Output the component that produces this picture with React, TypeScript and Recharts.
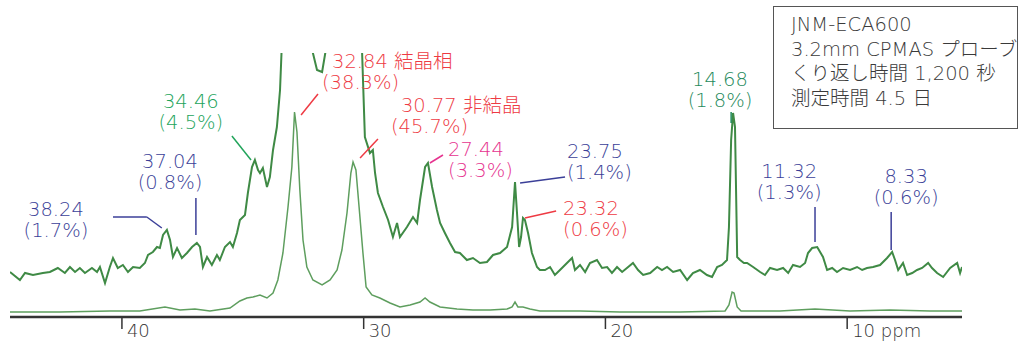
import { LineChart, Line, XAxis, YAxis, ReferenceLine, ReferenceDot } from 'recharts';

// 13C CPMAS spectrum, chemical shift (ppm) and intensity (arbitrary units)
// upper = vertically expanded trace, lower = full scale trace
const upperPpm = [
  44.63, 44.22, 44.01, 43.68, 43.27, 42.98, 42.65, 42.36, 42.15, 41.94,
  41.74, 41.53, 41.24, 41.03, 40.91, 40.70, 40.50, 40.37, 40.17, 39.96,
  39.75, 39.54, 39.26, 39.05, 38.92, 38.72, 38.55, 38.43, 38.30, 38.14,
  38.01, 37.89, 37.72, 37.52, 37.31, 37.10, 36.90, 36.77, 36.65, 36.48,
  36.28, 36.07, 35.95, 35.74, 35.53, 35.41, 35.24, 35.12, 34.91, 34.79,
  34.62, 34.50, 34.37, 34.29, 34.17, 34.00, 33.88, 33.75, 33.59, 33.46,
  33.34, 33.05, 32.64, 32.30, 32.14, 31.93, 31.72, 31.56, 31.39, 30.77,
  30.24, 30.07, 29.95, 29.74, 29.62, 29.53, 29.41, 29.20, 28.99, 28.79,
  28.62, 28.50, 28.21, 27.96, 27.79, 27.67, 27.46, 27.34, 27.17, 26.97,
  26.84, 26.64, 26.43, 26.22, 26.02, 25.73, 25.48, 25.19, 24.90, 24.65,
  24.36, 24.07, 23.86, 23.74, 23.66, 23.57, 23.49, 23.41, 23.33, 23.20,
  23.04, 22.83, 22.71, 22.50, 22.29, 22.09, 21.88, 21.59, 21.38, 21.26,
  21.05, 20.84, 20.64, 20.35, 20.14, 19.93, 19.73, 19.52, 19.31, 19.11,
  18.86, 18.65, 18.44, 18.15, 17.86, 17.66, 17.45, 17.20, 16.91, 16.62,
  16.38, 16.09, 15.80, 15.59, 15.38, 15.18, 14.97, 14.89, 14.80, 14.72,
  14.64, 14.55, 14.43, 14.27, 14.14, 13.89, 13.60, 13.40, 13.19, 12.90,
  12.65, 12.44, 12.24, 11.95, 11.74, 11.62, 11.45, 11.24, 11.12, 11.00,
  10.83, 10.62, 10.42, 10.17, 9.88, 9.59, 9.38, 9.18, 8.93, 8.64,
  8.35, 8.14, 8.02, 7.89, 7.69, 7.52, 7.31, 7.11, 6.90, 6.65,
  6.49, 6.28, 6.03, 5.74, 5.45, 5.33, 5.25,
];
const upperInt = [
  45, 37, 44, 42, 44, 45, 49, 44, 50, 45,
  49, 44, 49, 45, 50, 34, 50, 59, 49, 52,
  45, 50, 49, 54, 62, 65, 70, 69, 82, 87,
  77, 60, 69, 59, 64, 70, 74, 70, 50, 60,
  52, 62, 57, 70, 75, 70, 84, 97, 102, 124,
  150, 157, 147, 144, 149, 130, 140, 167, 190, 227,
  300, 320, 330, 300, 268, 247, 245, 268, 310, 340,
  300, 268, 180, 164, 167, 144, 124, 110, 97, 80,
  94, 80, 90, 100, 94, 117, 150, 154, 130, 107,
  94, 84, 74, 65, 64, 57, 59, 54, 55, 62,
  64, 70, 90, 135, 105, 70, 80, 99, 97, 84,
  64, 50, 47, 47, 50, 42, 47, 54, 59, 47,
  52, 45, 54, 57, 49, 50, 44, 50, 45, 49,
  54, 47, 42, 44, 50, 47, 50, 45, 47, 37,
  44, 47, 42, 40, 50, 52, 57, 90, 177, 204,
  190, 60, 57, 54, 54, 50, 45, 42, 49, 47,
  49, 44, 52, 50, 54, 64, 69, 70, 65, 60,
  47, 49, 45, 49, 47, 50, 47, 49, 50, 52,
  59, 65, 57, 47, 54, 42, 44, 47, 49, 54,
  49, 44, 40, 49, 54, 44, 50,
];

const lowerPpm = [
  44.63, 42.57, 40.50, 39.26, 38.22, 37.60, 36.98, 36.36, 35.53, 35.12,
  34.83, 34.58, 34.29, 34.00, 33.75, 33.55, 33.34, 33.13, 32.97, 32.86,
  32.76, 32.64, 32.51, 32.35, 32.10, 31.72, 31.39, 31.10, 30.90, 30.69,
  30.53, 30.44, 30.32, 30.19, 30.03, 29.90, 29.66, 29.33, 28.91, 28.50,
  28.08, 27.67, 27.46, 27.26, 26.84, 26.14, 25.48, 24.77, 24.07, 23.86,
  23.74, 23.62, 23.41, 23.12, 22.71, 21.05, 19.40, 16.91, 15.05, 14.89,
  14.76, 14.68, 14.55, 14.39, 12.78, 11.33, 9.88, 8.23, 6.57, 5.25,
];
const lowerInt = [
  5, 5, 6, 6, 10, 7, 8, 6, 9, 16,
  19, 20, 22, 19, 24, 37, 64, 110, 150, 205,
  185, 127, 77, 50, 37, 32, 37, 47, 67, 104,
  144, 155, 147, 110, 64, 30, 22, 19, 14, 10,
  12, 15, 19, 15, 10, 8, 7, 7, 8, 10,
  15, 10, 10, 8, 6, 6, 5, 5, 6, 12,
  25, 24, 10, 6, 6, 8, 6, 7, 6, 6,
];

const ppmTicks = [40, 30, 20, 10];

const BLUE = '#3b3f98';
const RED = '#ee3a43';
const PINK = '#e6338f';
const GREEN = '#22a45b';
const TEAL = '#1f8a5c';

// peak labels: text anchor (ppm, intensity) and leader segments
const notes = [
  { top: '38.24', bottom: '(1.7%)', ppm: 42.73, at: 101, anchor: 'middle', color: BLUE,
    lead: [[40.37, 100, 38.97, 100], [38.97, 100, 38.35, 89]] },
  { top: '37.04', bottom: '(0.8%)', ppm: 38.01, at: 149, anchor: 'middle', color: BLUE,
    lead: [[36.94, 119, 36.94, 82]] },
  { top: '34.46', bottom: '(4.5%)', ppm: 37.15, at: 209, anchor: 'middle', color: GREEN,
    lead: [[35.45, 181, 34.66, 157]] },
  { top: '32.84 結晶相', bottom: '(38.3%)', ppm: 31.31, at: 249, anchor: 'start', shift: -10, color: RED,
    lead: [[31.89, 223, 32.59, 202]] },
  { top: '30.77 非結晶', bottom: '(45.7%)', ppm: 28.46, at: 205, anchor: 'start', shift: -10, color: RED,
    lead: [[29.41, 178, 30.15, 159]] },
  { top: '27.44', bottom: '(3.3%)', ppm: 26.51, at: 161, anchor: 'start', color: PINK,
    lead: [[26.72, 162, 27.26, 154]] },
  { top: '23.75', bottom: '(1.4%)', ppm: 21.59, at: 159, anchor: 'start', color: BLUE,
    lead: [[21.67, 140, 23.53, 134]] },
  { top: '23.32', bottom: '(0.6%)', ppm: 21.75, at: 102, anchor: 'start', color: RED,
    lead: [[22.04, 106, 23.33, 99]] },
  { top: '14.68', bottom: '(1.8%)', ppm: 15.26, at: 231, anchor: 'middle', color: TEAL,
    lead: [[14.8, 205, 14.8, 194]] },
  { top: '11.32', bottom: '(1.3%)', ppm: 12.4, at: 139, anchor: 'middle', color: BLUE,
    lead: [[11.33, 110, 11.33, 75]] },
  { top: '8.33', bottom: '(0.6%)', ppm: 7.56, at: 134, anchor: 'middle', color: BLUE,
    lead: [[8.18, 105, 8.18, 67]] },
];

const conditions = ['JNM-ECA600', '3.2mm CPMAS プローブ', 'くり返し時間 1,200 秒', '測定時間 4.5 日'];

const FONT = '"DejaVu Sans", "Noto Sans CJK JP", sans-serif';

const upperData = upperPpm.map((ppm, i) => ({ ppm, v: upperInt[i] }));
const lowerData = lowerPpm.map((ppm, i) => ({ ppm, v: lowerInt[i] }));

const PpmTick = ({ x, y, payload }: any) => (
  <g>
    <line x1={x} x2={x} y1={y} y2={y + 12} stroke="#333" strokeWidth={1.5} />
    <text x={x + 5} y={y + 20} fontSize={18} fill="#333" fontFamily={FONT} fontWeight={300}>
      {payload.value === 10 ? '10 ppm' : payload.value}
    </text>
  </g>
);

function NoteText({ cx, cy, note }: any) {
  return (
    <g fill={note.color} fontSize={19.5} fontFamily={FONT} fontWeight={300}>
      <text x={cx} y={cy} textAnchor={note.anchor}>{note.top}</text>
      <text x={cx + (note.shift ?? 0)} y={cy + 21} textAnchor={note.anchor}>{note.bottom}</text>
    </g>
  );
}

export default function App() {
  return (
    <div style={{ position: 'absolute', left: 0, top: 0, width: 1019, height: 342, background: '#fff' }}>
      <LineChart width={1019} height={342} margin={{ top: 53, right: 57, bottom: 0, left: 10 }}>
        <XAxis
          type="number"
          dataKey="ppm"
          domain={[5.25, 44.63]}
          reversed
          allowDataOverflow
          ticks={ppmTicks}
          height={25}
          tickSize={0}
          tickMargin={0}
          tickLine={false}
          axisLine={{ stroke: '#333', strokeWidth: 2.5 }}
          tick={<PpmTick />}
        />
        <YAxis hide domain={[0, 264]} allowDataOverflow />
        <Line
          data={lowerData}
          dataKey="v"
          type="linear"
          stroke="#5e9e5e"
          strokeWidth={1.5}
          dot={false}
          isAnimationActive={false}
        />
        <Line
          data={upperData}
          dataKey="v"
          type="linear"
          stroke="#3f8a45"
          strokeWidth={2}
          dot={false}
          isAnimationActive={false}
        />
        {notes.flatMap((n, i) =>
          n.lead.map((s, j) => (
            <ReferenceLine
              key={`l${i}-${j}`}
              segment={[{ x: s[0], y: s[1] }, { x: s[2], y: s[3] }]}
              stroke={n.color}
              strokeWidth={1.5}
              ifOverflow="visible"
            />
          ))
        )}
        {notes.map((n, i) => (
          <ReferenceDot
            key={`n${i}`}
            x={n.ppm}
            y={n.at}
            r={0}
            ifOverflow="visible"
            shape={(p: any) => <NoteText cx={p.cx} cy={p.cy} note={n} />}
          />
        ))}
      </LineChart>
      <div
        style={{
          position: 'absolute',
          left: 773,
          top: 6,
          width: 245,
          height: 123,
          boxSizing: 'border-box',
          border: '1.5px solid #555',
          padding: '6px 0 0 17px',
          fontFamily: FONT,
          fontWeight: 300,
          fontSize: 19.5,
          lineHeight: '24.5px',
          color: '#3a3a3a',
          whiteSpace: 'nowrap',
        }}
      >
        {conditions.map((c) => (
          <div key={c}>{c}</div>
        ))}
      </div>
    </div>
  );
}
